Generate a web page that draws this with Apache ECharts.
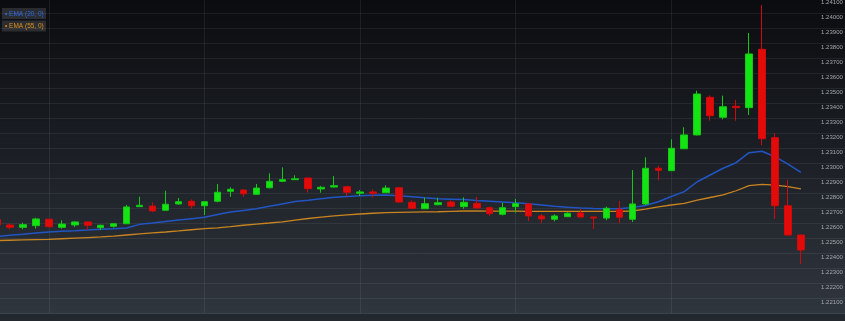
<!DOCTYPE html>
<html><head><meta charset="utf-8">
<script src="https://cdn.jsdelivr.net/npm/echarts@6/dist/echarts.min.js"></script>
<style>html,body{margin:0;padding:0;background:#000;}#c{width:845px;height:321px;}</style>
</head><body><div id="c"></div>
<script>
// slot ids (63 candles + empty slots to the right edge)
const categories = Array.from({length: 67}, (_, i) => String(i));
const openV = [1.22625,1.22589,1.22573,1.22584,1.22627,1.22573,1.22589,1.22609,1.22571,1.22580,
1.22597,1.22711,1.22715,1.22687,1.22729,1.22747,1.22717,1.22747,1.22813,1.22822,
1.22793,1.22837,1.22880,1.22891,1.22902,1.22829,1.22842,1.22844,1.22800,1.22809,
1.22804,1.22837,1.22740,1.22697,1.22724,1.22742,1.22711,1.22733,1.22704,1.22660,
1.22711,1.22729,1.22649,1.22627,1.22644,1.22669,1.22642,1.22635,1.22693,1.22627,
1.22729,1.22967,1.22951,1.23097,1.23189,1.23440,1.23307,1.23380,1.23371,1.23760,
1.23171,1.22717,1.22522];
const closeV = [1.22589,1.22573,1.22591,1.22629,1.22577,1.22595,1.22609,1.22587,1.22587,1.22597,
1.22709,1.22720,1.22682,1.22727,1.22744,1.22717,1.22744,1.22807,1.22827,1.22797,
1.22835,1.22880,1.22891,1.22897,1.22831,1.22840,1.22851,1.22807,1.22809,1.22800,
1.22835,1.22742,1.22700,1.22731,1.22737,1.22713,1.22740,1.22702,1.22664,1.22704,
1.22731,1.22649,1.22629,1.22649,1.22667,1.22642,1.22635,1.22700,1.22640,1.22729,
1.22967,1.22953,1.23100,1.23189,1.23462,1.23317,1.23377,1.23371,1.23729,1.23164,
1.22717,1.22522,1.22422];
const highV = [1.22635,1.22600,1.22604,1.22637,1.22629,1.22620,1.22613,1.22611,1.22591,1.22602,
1.22722,1.22777,1.22740,1.22817,1.22769,1.22759,1.22746,1.22862,1.22840,1.22827,
1.22862,1.22933,1.22973,1.22920,1.22905,1.22849,1.22915,1.22849,1.22822,1.22827,
1.22853,1.22840,1.22753,1.22771,1.22771,1.22753,1.22773,1.22777,1.22711,1.22737,
1.22762,1.22737,1.22662,1.22660,1.22673,1.22697,1.22642,1.22711,1.22749,1.22955,
1.23040,1.22984,1.23160,1.23240,1.23484,1.23453,1.23451,1.23422,1.23869,1.24055,
1.23200,1.22889,1.22525];
const lowV = [1.22575,1.22560,1.22560,1.22564,1.22573,1.22564,1.22575,1.22555,1.22555,1.22571,
1.22595,1.22711,1.22675,1.22687,1.22724,1.22697,1.22655,1.22740,1.22777,1.22777,
1.22789,1.22833,1.22875,1.22889,1.22805,1.22804,1.22839,1.22782,1.22782,1.22771,
1.22804,1.22735,1.22695,1.22695,1.22720,1.22711,1.22697,1.22697,1.22649,1.22653,
1.22671,1.22615,1.22600,1.22613,1.22642,1.22640,1.22562,1.22620,1.22600,1.22609,
1.22722,1.22889,1.22949,1.23095,1.23186,1.23284,1.23293,1.23284,1.23322,1.23120,
1.22629,1.22519,1.22329];
const ema20 = [1.22512,1.22520,1.22527,1.22535,1.22542,1.22547,1.22551,1.22556,1.22560,1.22564,
1.22569,1.22593,1.22602,1.22612,1.22622,1.22631,1.22640,1.22658,1.22675,1.22686,
1.22697,1.22713,1.22729,1.22745,1.22754,1.22764,1.22773,1.22779,1.22784,1.22787,
1.22789,1.22784,1.22777,1.22770,1.22764,1.22761,1.22758,1.22752,1.22747,1.22742,
1.22737,1.22730,1.22722,1.22714,1.22707,1.22702,1.22699,1.22697,1.22697,1.22705,
1.22719,1.22744,1.22779,1.22811,1.22877,1.22922,1.22967,1.23004,1.23071,1.23080,
1.23044,1.22995,1.22940];
const ema55 = [1.22485,1.22487,1.22489,1.22491,1.22493,1.22497,1.22501,1.22505,1.22509,1.22515,
1.22522,1.22529,1.22536,1.22542,1.22549,1.22557,1.22564,1.22570,1.22578,1.22587,
1.22595,1.22602,1.22610,1.22621,1.22632,1.22641,1.22649,1.22656,1.22662,1.22667,
1.22671,1.22673,1.22675,1.22676,1.22677,1.22680,1.22682,1.22682,1.22681,1.22681,
1.22681,1.22680,1.22680,1.22680,1.22679,1.22679,1.22679,1.22679,1.22679,1.22682,
1.22695,1.22709,1.22722,1.22733,1.22755,1.22772,1.22789,1.22817,1.22851,1.22860,
1.22855,1.22844,1.22829];
const legendNames = ['\u2022 EMA (20, 0)', '\u2022 EMA (55, 0)'];
const yMin = 1.220, yMax = 1.242, yStep = 0.001;

const candleData = openV.map((o, i) => [o, closeV[i], lowV[i], highV[i]]);
const FONT = '"Liberation Sans", Arial, sans-serif';

const chart = echarts.init(document.getElementById('c'), null, {renderer: 'canvas'});
chart.setOption({
  animation: false,
  backgroundColor: new echarts.graphic.LinearGradient(0, 0, 0, 1, [
    {offset: 0, color: '#0b0c0f'},
    {offset: 0.5, color: '#1c2026'},
    {offset: 0.98, color: '#30363e'},
    {offset: 1, color: '#30363e'}
  ]),
  grid: {left: -3, right: -7.8, top: -16.7, bottom: 7.7, containLabel: false, outerBoundsMode: 'none'},
  xAxis: {
    type: 'category', data: categories, boundaryGap: false,
    axisLine: {show: false}, axisTick: {show: false}, axisLabel: {show: false},
    splitLine: {show: true, interval: (idx) => idx % 12 === 4 && idx < 63,
      lineStyle: {color: 'rgba(255,255,255,0.07)', width: 1}}
  },
  yAxis: {
    type: 'value', position: 'right', min: yMin, max: yMax, interval: yStep, scale: true,
    axisLine: {show: false}, axisTick: {show: false},
    splitLine: {show: true, lineStyle: {color: 'rgba(255,255,255,0.065)', width: 1}},
    axisLabel: {
      inside: true, margin: 10, align: 'right', verticalAlign: 'top', lineHeight: 8,
      color: '#a4a9af', fontSize: 6, fontFamily: FONT,
      showMinLabel: false,
      formatter: (v) => v.toFixed(5)
    }
  },
  series: [
    {
      type: 'line', name: 'EMA55', data: ema55, showSymbol: false, symbol: 'none',
      lineStyle: {color: '#c98420', width: 1.3}, z: 2
    },
    {
      type: 'line', name: 'EMA20', data: ema20, showSymbol: false, symbol: 'none',
      lineStyle: {color: '#2155c4', width: 1.5}, z: 2
    },
    {
      type: 'candlestick', name: 'price', data: candleData, barWidth: 7, z: 3,
      itemStyle: {color: '#14e414', color0: '#e30a0a', borderColor: '#14c814', borderColor0: '#d00a0a', borderWidth: 1}
    }
  ],
  graphic: [
    {type: 'rect', left: 2, top: 8, shape: {width: 44, height: 11}, style: {fill: 'rgba(48,50,55,0.85)'}},
    {type: 'text', left: 5, top: 10.5, style: {text: legendNames[0], fill: '#2e66df', font: '6.5px ' + FONT}},
    {type: 'rect', left: 2, top: 20.5, shape: {width: 44, height: 11}, style: {fill: 'rgba(48,50,55,0.85)'}},
    {type: 'text', left: 5, top: 23, style: {text: legendNames[1], fill: '#e0901c', font: '6.5px ' + FONT}},
    {type: 'rect', left: 0, top: 314, shape: {width: 845, height: 7}, style: {fill: '#23282e'}}
  ]
});
</script></body></html>
